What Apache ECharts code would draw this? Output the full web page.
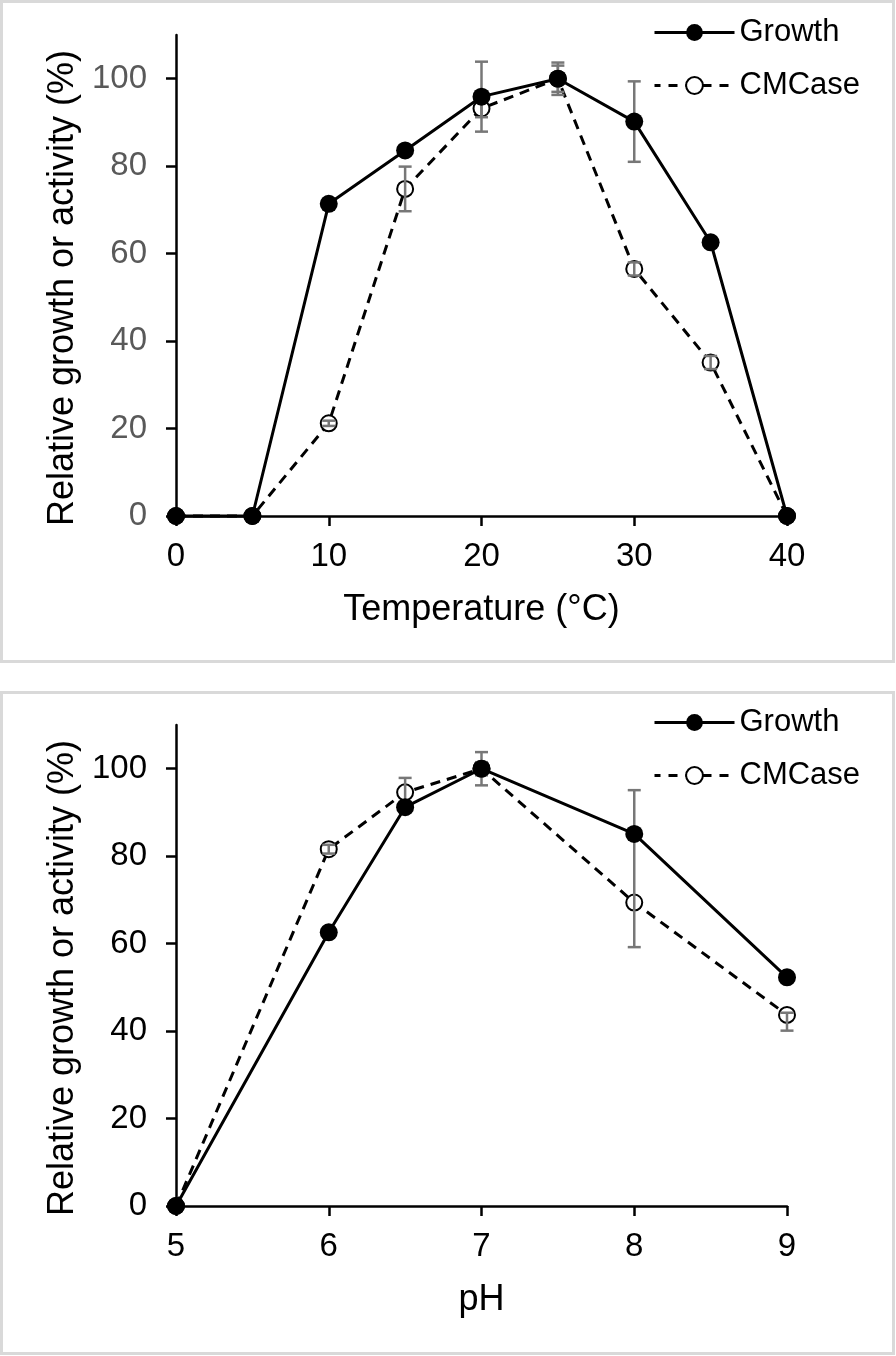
<!DOCTYPE html>
<html>
<head>
<meta charset="utf-8">
<script src="https://cdn.jsdelivr.net/npm/echarts@6/dist/echarts.min.js"></script>
<style>
html,body{margin:0;padding:0;background:#fff;}
#c{width:896px;height:1356px;}
</style>
</head>
<body>
<div id="c"></div>
<script>
// ---- Data ----
const tempX = [0, 5, 10, 15, 20, 25, 30, 35, 40];
const tempGrowth = [0, 0, 71.4, 83.6, 95.9, 100, 90.2, 62.6, 0];
const tempGrowthErrUp = [0, 0, 0, 0, 8.0, 3.7, 9.2, 0, 0];
const tempGrowthErrDown = [0, 0, 0, 0, 8.0, 3.7, 9.2, 0, 0];
const tempCMCase = [0, 0, 21.2, 74.8, 93.2, 100, 56.5, 35.1, 0];
const tempCMCaseErrUp = [0, 0, 0.6, 5.1, 2.0, 3.0, 1.5, 1.5, 0];
const tempCMCaseErrDown = [0, 0, 0.6, 5.1, 2.0, 3.0, 1.5, 1.5, 0];

const phX = [5, 6, 6.5, 7, 8, 9];
const phGrowth = [0, 62.6, 91.2, 100, 85.1, 52.3];
const phGrowthErrUp = [0, 0.6, 0.6, 3.8, 10.0, 1.0];
const phGrowthErrDown = [0, 0.6, 0.6, 3.8, 0, 1.0];
const phCMCase = [0, 81.6, 94.6, 100, 69.4, 43.7];
const phCMCaseErrUp = [0, 1.0, 3.3, 1.5, 15.7, 0.5];
const phCMCaseErrDown = [0, 1.0, 3.3, 1.5, 10.2, 3.6];

const yTickValues = [0, 20, 40, 60, 80, 100];
const legendNames = ['Growth', 'CMCase'];
const tempTitle = 'Temperature (°C)';
const phTitle = 'pH';
const yTitle = 'Relative growth or activity (%)';

// ---- Helpers ----
const FONT = "'Liberation Sans', Arial, sans-serif";
function pairs(xs, ys) { return xs.map((x, i) => [x, ys[i]]); }
function errData(xs, ys, up, down) {
  const out = [];
  xs.forEach((x, i) => {
    if (up[i] > 0 || down[i] > 0) out.push([x, ys[i] - down[i], ys[i] + up[i], down[i] > 0 ? 1 : 0, up[i] > 0 ? 1 : 0]);
  });
  return out;
}
function errRender(params, api) {
  const x = api.value(0), lo = api.value(1), hi = api.value(2);
  const hasLo = api.value(3), hasHi = api.value(4);
  const p1 = api.coord([x, hi]), p2 = api.coord([x, lo]);
  const w = 6.5;
  const style = { stroke: '#777777', lineWidth: 2.5 };
  const children = [{ type: 'line', shape: { x1: p1[0], y1: p1[1], x2: p2[0], y2: p2[1] }, style }];
  if (hasHi) children.push({ type: 'line', shape: { x1: p1[0] - w, y1: p1[1], x2: p1[0] + w, y2: p1[1] }, style });
  if (hasLo) children.push({ type: 'line', shape: { x1: p2[0] - w, y1: p2[1], x2: p2[0] + w, y2: p2[1] }, style });
  return { type: 'group', children };
}
function xAxisCfg(idx, min, max, interval, name) {
  return {
    type: 'value', gridIndex: idx, min, max, interval,
    name, nameLocation: 'middle', nameGap: 76,
    nameTextStyle: { fontFamily: FONT, fontSize: 36, color: '#000' },
    axisLine: { show: true, onZero: false, lineStyle: { color: '#000', width: 2.5 } },
    axisTick: { show: true, inside: false, length: 10, lineStyle: { color: '#000', width: 2.5 } },
    axisLabel: { fontFamily: FONT, fontSize: 33, color: '#000', margin: 24 },
    splitLine: { show: false }
  };
}
function yAxisCfg(idx, labelColor) {
  return {
    type: 'value', gridIndex: idx, min: 0, max: 110, interval: 20,
    name: yTitle, nameLocation: 'middle', nameGap: 92,
    nameTextStyle: { fontFamily: FONT, fontSize: 36, color: '#000', padding: [0, 25, 0, 0] },
    axisLine: { show: true, lineStyle: { color: '#000', width: 2.5 } },
    axisTick: { show: true, inside: false, length: 10, customValues: yTickValues, lineStyle: { color: '#000', width: 2.5 } },
    axisLabel: { fontFamily: FONT, fontSize: 33, color: labelColor, margin: 29, customValues: yTickValues },
    splitLine: { show: false }
  };
}
function seriesFor(idx, xs, g, gU, gD, c, cU, cD) {
  return [
    {
      name: 'CMCase', type: 'line', xAxisIndex: idx, yAxisIndex: idx, z: 2, clip: false,
      data: pairs(xs, c), symbol: 'emptyCircle', symbolSize: 16,
      lineStyle: { color: '#000', width: 3, type: [10, 7] },
      itemStyle: { color: '#000', borderColor: '#000', borderWidth: 2.5 }
    },
    {
      name: 'err', type: 'custom', xAxisIndex: idx, yAxisIndex: idx, z: 3, clip: false,
      renderItem: errRender, data: errData(xs, g, gU, gD).concat(errData(xs, c, cU, cD)),
      encode: { x: 0, y: [1, 2] }, silent: true
    },
    {
      name: 'Growth', type: 'line', xAxisIndex: idx, yAxisIndex: idx, z: 4, clip: false,
      data: pairs(xs, g), symbol: 'circle', symbolSize: 18,
      lineStyle: { color: '#000', width: 3, type: 'solid' },
      itemStyle: { color: '#000' }
    }
  ];
}
function legendCfg(top) {
  return {
    data: [
      { name: legendNames[0] },
      { name: legendNames[1], lineStyle: { type: [9, 8], dashOffset: 3 } }
    ],
    orient: 'vertical', left: 648, top,
    itemWidth: 80, itemHeight: 21, itemGap: 22,
    textStyle: { fontFamily: FONT, fontSize: 31, color: '#000' },
    lineStyle: { width: 3 },
    selectedMode: false
  };
}

const chart = echarts.init(document.getElementById('c'), null, { renderer: 'canvas', width: 896, height: 1356 });
chart.setOption({
  animation: false,
  backgroundColor: '#fff',
  graphic: [
    { type: 'rect', shape: { x: 1.5, y: 1.5, width: 892, height: 660 }, style: { fill: 'none', stroke: '#d9d9d9', lineWidth: 3 }, z: -10 },
    { type: 'rect', shape: { x: 1.5, y: 692.5, width: 892, height: 661 }, style: { fill: 'none', stroke: '#d9d9d9', lineWidth: 3 }, z: -10 }
  ],
  grid: [
    { left: 176, top: 35, width: 611, height: 481 },
    { left: 176, top: 725, width: 611, height: 481 }
  ],
  legend: [legendCfg(12), legendCfg(702)],
  xAxis: [xAxisCfg(0, 0, 40, 10, tempTitle), xAxisCfg(1, 5, 9, 1, phTitle)],
  yAxis: [yAxisCfg(0, '#595959'), yAxisCfg(1, '#000')],
  series: seriesFor(0, tempX, tempGrowth, tempGrowthErrUp, tempGrowthErrDown, tempCMCase, tempCMCaseErrUp, tempCMCaseErrDown)
    .concat(seriesFor(1, phX, phGrowth, phGrowthErrUp, phGrowthErrDown, phCMCase, phCMCaseErrUp, phCMCaseErrDown))
});
</script>
</body>
</html>
